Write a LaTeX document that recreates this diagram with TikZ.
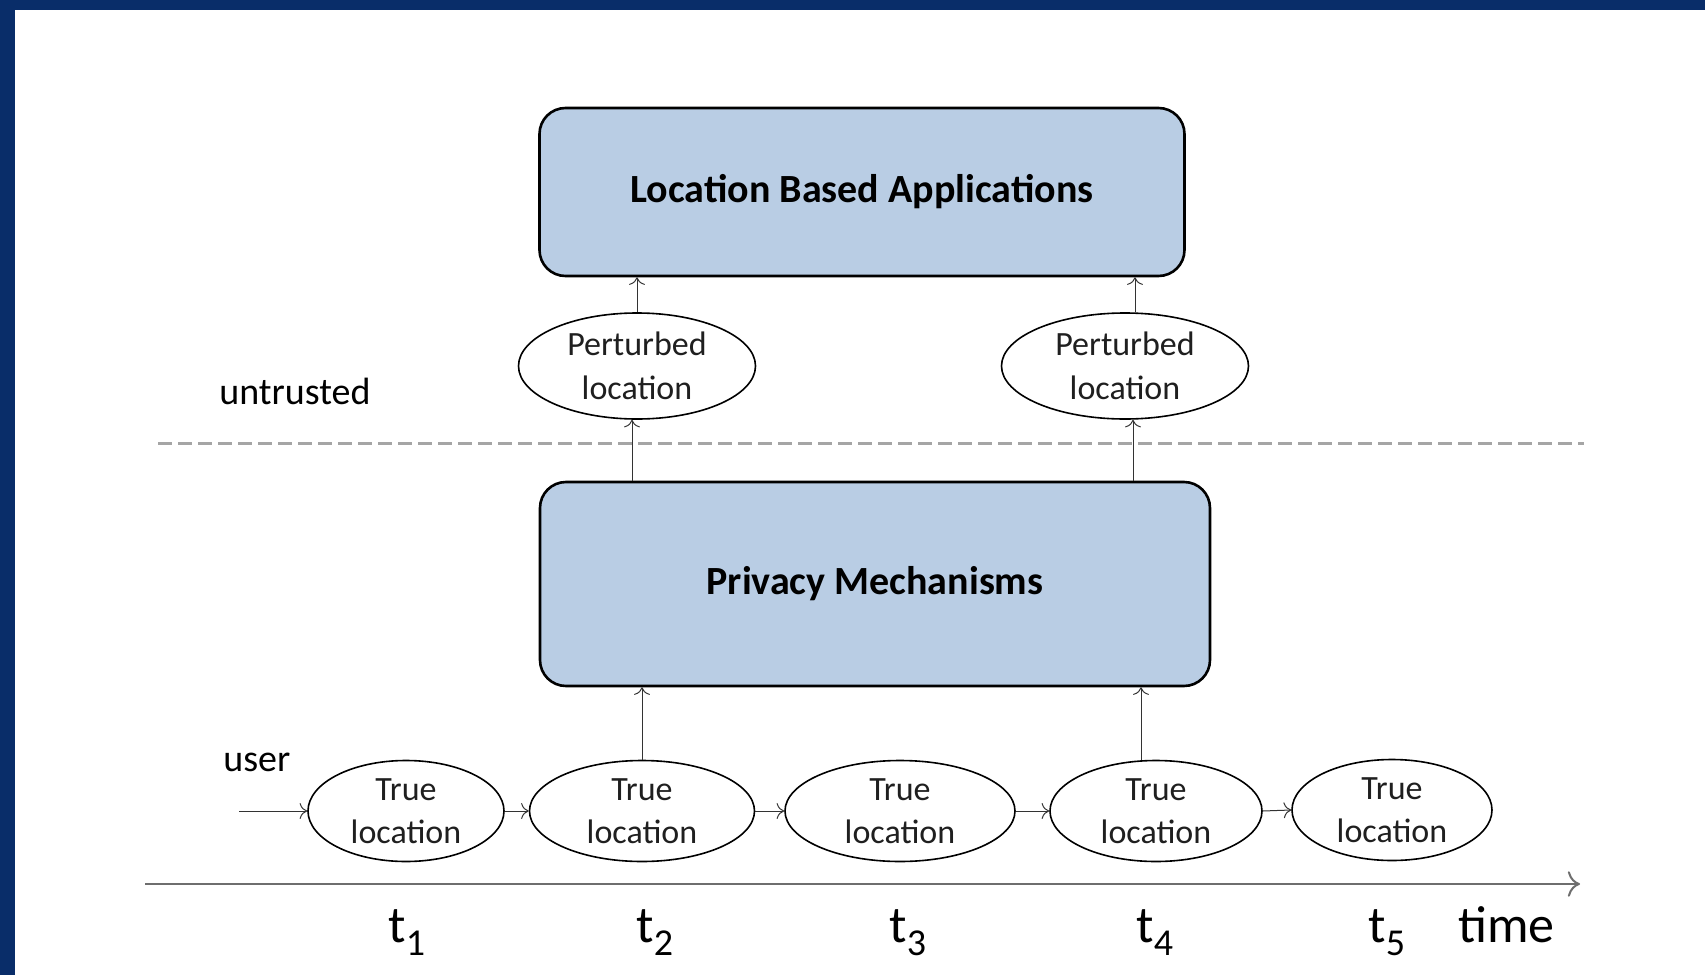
\documentclass[tikz,border=0pt]{standalone}
\usepackage{fontspec}
\setmainfont{Carlito}
\usetikzlibrary{shapes.geometric,arrows.meta}
\definecolor{framebg}{RGB}{9,45,105}
\definecolor{boxfill}{RGB}{185,205,228}
\definecolor{dashgray}{RGB}{165,165,165}
\definecolor{axisgray}{RGB}{110,110,110}
\newcommand{\tlabel}[1]{t\raisebox{-6.5pt}{\fontsize{19}{19}\selectfont #1}}

\begin{document}
\begin{tikzpicture}[x=0.5pt, y=-0.5pt,
  layer/.style={draw, line width=1.3pt, rounded corners=13pt, fill=boxfill,
    font=\fontsize{20}{24}\selectfont\bfseries},
  loc/.style={draw, ellipse, line width=0.8pt, inner sep=0pt, align=center,
    font=\fontsize{17}{21.7}\selectfont, text=black!88},
  side/.style={font=\fontsize{19}{23}\selectfont, anchor=base west, inner sep=0pt},
  tick/.style={font=\fontsize{26}{30}\selectfont, anchor=base west, inner sep=0pt}]
\useasboundingbox (0,0) rectangle (1705,975);
\fill[white] (0,0) rectangle (1705,975);
\fill[framebg] (0,0) rectangle (1705,10);
\fill[framebg] (0,0) rectangle (15,975);

% layers
\node[layer, minimum width=322.5pt, minimum height=84pt] (lba) at (862,192) {Location Based Applications};
\node[layer, minimum width=335pt, minimum height=102pt] (pm) at (875,584) {Privacy Mechanisms};

% perturbed locations
\node[loc, minimum width=118.5pt, minimum height=53pt] (pert1) at (637,366) {Perturbed\\location};
\node[loc, minimum width=123.5pt, minimum height=53pt] (pert2) at (1125,366) {Perturbed\\location};

% true locations
\node[loc, minimum width=98pt, minimum height=50.5pt] (true1) at (406,811) {True\\location};
\node[loc, minimum width=112.5pt, minimum height=50.5pt] (true2) at (642,811) {True\\location};
\node[loc, minimum width=115pt, minimum height=50.5pt] (true3) at (900,811) {True\\location};
\node[loc, minimum width=106pt, minimum height=50.5pt] (true4) at (1156,811) {True\\location};
\node[loc, minimum width=100pt, minimum height=50.5pt] (true5) at (1392,810) {True\\location};

\node[side] (untrusted) at (219,404) {untrusted};
\node[side] (user) at (223,771) {user};

\coordinate (start) at (239,811);
\coordinate (axisL) at (145,884);
\coordinate (axisR) at (1580,884);

\draw[dashgray, line width=1.5pt, dash pattern=on 7pt off 3pt] (158,443) -- (1584,443);

\path[-{>[scale=1.4]}, line width=0.5pt, black!80]
(start) edge (true1.west)
(true1.east) edge (true2.west)
(true2.east) edge (true3.west)
(true3.east) edge (true4.west)
(true4.east) edge (true5.west)
(true2.north) edge (true2.north |- pm.south)
([xshift=-7.5pt]true4.north) edge ([xshift=-7.5pt]true4.north |- pm.south)
([xshift=-2.5pt]pert1.south |- pm.north) edge ([xshift=-2.5pt]pert1.south)
([xshift=4pt]pert2.south |- pm.north) edge ([xshift=4pt]pert2.south)
(pert1.north) edge (pert1.north |- lba.south)
([xshift=5pt]pert2.north) edge ([xshift=5pt]pert2.north |- lba.south);

\draw[-{>[scale=1.6]}, axisgray, line width=1pt] (axisL) -- (axisR);

% time labels
\node[tick] (t1) at (388,942) {\tlabel{1}};
\node[tick] (t2) at (636,942) {\tlabel{2}};
\node[tick] (t3) at (889,942) {\tlabel{3}};
\node[tick] (t4) at (1136,942) {\tlabel{4}};
\node[tick] (t5) at (1368,942) {\tlabel{5}};
\node[tick] (time) at (1458,942) {time};
\end{tikzpicture}
\end{document}
